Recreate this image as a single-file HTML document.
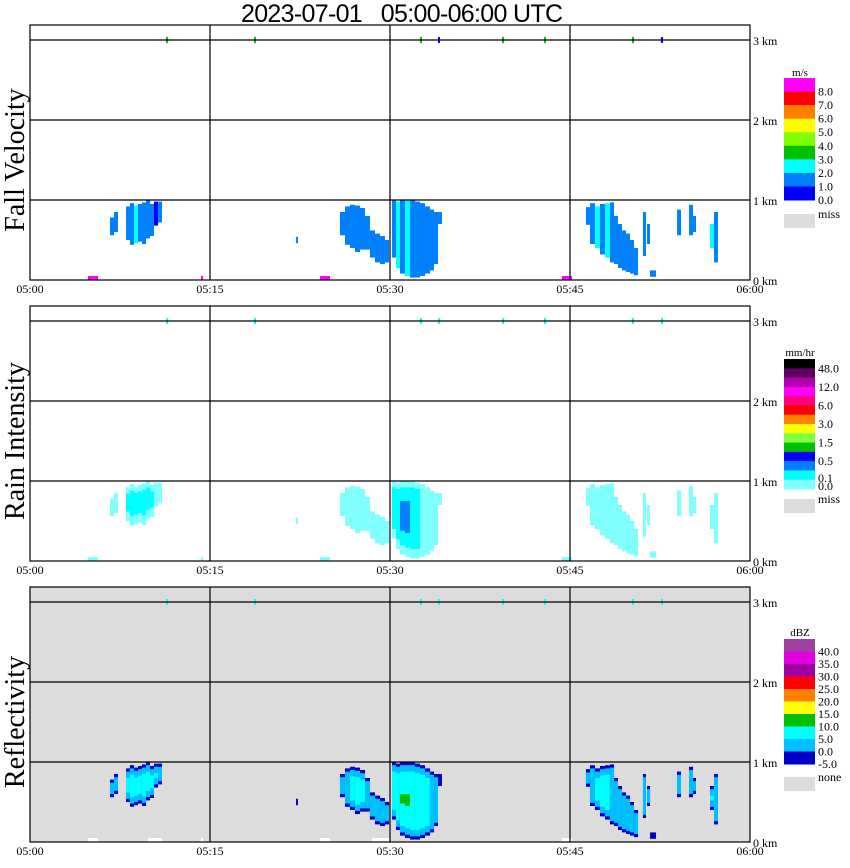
<!DOCTYPE html>
<html><head><meta charset="utf-8"><style>
html,body{margin:0;padding:0;background:#fff;width:850px;height:868px;overflow:hidden}
svg text{font-family:"Liberation Serif","DejaVu Serif",serif;}
</style></head><body>
<svg id="chart" width="850" height="868" viewBox="0 0 850 868" xmlns="http://www.w3.org/2000/svg">
<text x="402" y="22" font-size="25" text-anchor="middle" style="font-family:'Liberation Sans',sans-serif;white-space:pre" xml:space="preserve" textLength="322">2023-07-01&#160;&#160;&#160;05:00-06:00 UTC</text>
</svg>
<script>
// ---- data ----
const echoStart = [6.67,7.0,8.0,8.33,8.67,9.0,9.33,9.67,10.0,10.33,10.67,22.17,
 25.83,26.25,26.67,27.08,27.5,27.92,28.33,28.75,29.17,29.58,
 30.17,30.5,30.83,31.25,31.67,32.08,32.5,32.92,33.33,33.67,34.0,
 46.33,46.67,47.08,47.5,47.92,48.33,48.67,49.0,49.33,49.67,50.0,50.33,51.08,51.42,51.67,53.92,54.92,55.25,56.67,57.0];
const echoEnd = [7.0,7.33,8.33,8.67,9.0,9.33,9.67,10.0,10.33,10.67,11.0,22.33,
 26.25,26.67,27.08,27.5,27.92,28.33,28.75,29.17,29.58,29.92,
 30.5,30.83,31.25,31.67,32.08,32.5,32.92,33.33,33.67,34.0,34.33,
 46.67,47.08,47.5,47.92,48.33,48.67,49.0,49.33,49.67,50.0,50.33,50.67,51.33,51.67,52.17,54.25,55.25,55.5,57.0,57.33];
const echoTop = [0.78,0.85,0.92,0.96,0.93,0.95,0.97,1.0,0.95,0.98,0.98,0.54,
 0.85,0.92,0.94,0.93,0.90,0.80,0.62,0.58,0.55,0.50,
 1.0,0.98,1.0,1.0,1.0,0.98,0.96,0.92,0.88,0.85,0.85,
 0.91,0.96,0.92,0.95,0.96,0.97,0.80,0.70,0.62,0.58,0.50,0.40,0.85,0.70,0.12,0.88,0.94,0.80,0.70,0.85];
const echoBottom = [0.56,0.60,0.50,0.44,0.46,0.48,0.45,0.52,0.55,0.68,0.72,0.46,
 0.56,0.44,0.40,0.35,0.38,0.38,0.28,0.22,0.20,0.22,
 0.28,0.15,0.08,0.05,0.03,0.03,0.05,0.08,0.12,0.20,0.70,
 0.69,0.45,0.40,0.32,0.28,0.22,0.20,0.15,0.12,0.10,0.08,0.06,0.30,0.45,0.04,0.56,0.56,0.60,0.40,0.22];
const fallVelocity = [1.5,1.5,1.5,1.5,2.5,1.5,1.5,1.5,1.5,0.5,1.5,1.5,
 1.5,1.5,1.5,1.5,1.5,1.5,1.5,1.5,1.5,1.5,
 1.5,2.5,1.5,2.5,1.5,1.5,1.5,1.5,1.5,1.5,1.5,
 1.5,1.5,2.5,1.5,2.5,1.5,1.5,1.5,1.5,1.5,1.5,1.5,1.5,1.5,1.5,1.5,1.5,1.5,2.5,1.5];
const rainRate = [0.05,0.05,0.2,0.3,0.6,0.3,0.2,0.2,0.2,0.05,0.05,0.05,
 0.05,0.05,0.05,0.05,0.05,0.05,0.05,0.05,0.05,0.05,
 0.2,0.3,0.6,0.6,0.3,0.2,0.05,0.05,0.05,0.05,0.05,
 0.05,0.05,0.05,0.05,0.05,0.05,0.05,0.05,0.05,0.05,0.05,0.05,0.05,0.05,0.05,0.05,0.05,0.05,0.05,0.05];
const reflectivity = [2,3,7,8,8,8,7,7,8,6,3,-2,
 2,4,6,6,6,4,4,3,3,2,
 6,8,12,12,8,8,6,6,4,3,-2,
 2,3,6,6,6,4,3,3,2,2,2,1,3,2,-2,2,3,2,6,3];
const topMarks = [11.42,18.75,32.58,34.08,39.42,42.92,50.25,52.67];
const bottomMarks = [[4.83,5.67],[14.25,14.42],[24.17,25.0],[44.33,45.17]];
const timeTicks = [0,15,30,45,60];
const timeLabels = ["05:00","05:15","05:30","05:45","06:00"];
const kmTicks = [0,1,2,3];
const velBounds = ["8.0","7.0","6.0","5.0","4.0","3.0","2.0","1.0","0.0"];
const rainBounds = [48,12,6,3,1.5,0.5,0.1,0.0];
const dbzBounds = ["40.0","35.0","30.0","25.0","20.0","15.0","10.0","5.0","0.0","-5.0"];

// ---- helpers ----
const NS="http://www.w3.org/2000/svg", svg=document.getElementById('chart');
function mk(tag, attrs, parent){const e=document.createElementNS(NS,tag);for(const k in attrs)e.setAttribute(k,attrs[k]);(parent||svg).appendChild(e);return e;}
const X = m => 30 + 12*m;
const panelTops=[25,306,587];
const Yf = top => km => top + 15 + (3-km)*80;
const velColors=["#ff00ff","#ff0000","#ff8000","#ffff00","#80ff00","#00c000","#00ffff","#0080ff","#0000ff"];
const rainColors=["#000000","#600060","#b000b0","#ff00ff","#ff0080","#ff0000","#ff8000","#ffff00","#80ff40","#00c000","#0000ff","#0080ff","#00ffff","#80ffff"];
const dbzColors=["#a040a0","#e000e0","#a000a0","#ff0000","#ff8000","#ffff00","#00c000","#00ffff","#00c0ff","#0000c8"];
function velColor(v){const i=Math.min(8,Math.max(0,8-Math.floor(v)));return velColors[i];}
const titles=["Fall Velocity","Rain Intensity","Reflectivity"];

panelTops.forEach((top,p)=>{
  const Y=Yf(top);
  const g=mk('g',{});
  
  
  if(p===2){ const bg=mk('rect',{x:30,y:top,width:720,height:255,fill:'#dcdcdc'},g);
      }
  bottomMarks.forEach(b=>{
    const r=mk('rect',{x:X(b[0]),y:Y(0)-4,width:Math.max(2,X(b[1])-X(b[0])),height:4,fill:p===0?'#ff00ff':(p===1?'#80ffff':'#ffffff')},g);
     
  });
  if(p===2){[[9.83,11.0],[28.5,30]].forEach(b=>{const r=mk('rect',{x:X(b[0]),y:Y(0)-4,width:X(b[1])-X(b[0]),height:4,fill:'#fff'},g);
     });}
  echoStart.forEach((s,i)=>{
    const x0=X(s), w=X(echoEnd[i])-x0, t=echoTop[i], b=echoBottom[i];
    const layers=[];
    if(p===0){ layers.push([velColor(fallVelocity[i]),0,0]); }
    else if(p===1){ const r=rainRate[i]; layers.push(['#80ffff',0,0]);
      if(r>=0.1) layers.push(['#00ffff',0.08,0.12]);
      if(r>=0.5) layers.push(['#0080ff',0.25,0.3]); }
    else { const d=reflectivity[i]; layers.push(['#0000c8',0,0]);
      if(d>=0) layers.push(['#00c0ff',0.04,0.04]);
      if(d>=5) layers.push(['#00ffff',0.12,0.12]);
      if(d>=10) layers.push(['#00c000',0.4,0.4]); }
    layers.forEach(L=>{
      const tt=t-L[1], bb=b+L[2]; if(tt<=bb) return;
      const r=mk('rect',{x:x0,y:Y(tt),width:w,height:Y(bb)-Y(tt),fill:L[0]},g);
       
    });
  });
  topMarks.forEach((m,i)=>{
    const c = p===0 ? ((i===3||i===7)?'#0000ff':'#00c000') : '#00ffff';
    const r=mk('rect',{x:X(m)-1,y:Y(3)-3,width:2,height:6,fill:c},g);
     
  });
  kmTicks.slice(1).forEach(k=>{const l=mk('line',{x1:30,x2:750,y1:Y(k),y2:Y(k),stroke:'#000','stroke-width':1.2},g);
     });
  timeTicks.slice(1,4).forEach(t=>{const l=mk('line',{x1:X(t),x2:X(t),y1:top,y2:top+255,stroke:'#000','stroke-width':1.2},g);
     });
  const br=mk('rect',{x:30,y:top,width:720,height:255,fill:'none',stroke:'#000','stroke-width':1.2},g);
   
  kmTicks.forEach(k=>{const t=mk('text',{x:753,y:Y(k)+5,'font-size':12},g);t.textContent=k+' km';
     });
  timeTicks.forEach((tm,i)=>{const t=mk('text',{x:X(tm),y:top+268,'font-size':12,'text-anchor':'middle'},g);t.textContent=timeLabels[i];
     });
  const yt=mk('text',{x:0,y:0,'font-size':28,'text-anchor':'middle',transform:`translate(24,${top+135}) rotate(-90)`},g);
  yt.textContent=titles[p];  
});

function legend(y0,y1,colors,labels,labelIdx,unit,unitY,missLabel,missY,name){
  const g=mk('g',{});  
  const h=(y1-y0)/colors.length;
  colors.forEach((c,i)=>{const r=mk('rect',{x:784,y:y0+i*h,width:31,height:h+0.5,fill:c},g);
     });
  labels.forEach((l,i)=>{const t=mk('text',{x:818,y:y0+labelIdx[i]*h+4,'font-size':12},g);t.textContent=l;
     });
  const u=mk('text',{x:800,y:unitY,'font-size':11,'text-anchor':'middle'},g);u.textContent=unit;
   
  const m=mk('rect',{x:784,y:missY,width:31,height:14,fill:'#dcdcdc'},g);
   
  const mt=mk('text',{x:818,y:missY+4,'font-size':12},g);mt.textContent=missLabel;
   
}
legend(78,200,velColors,velBounds,[1,2,3,4,5,6,7,8,9],'m/s',76,'miss',214,'fall-velocity-legend');
legend(359,489,rainColors,rainBounds.map(v=>v.toFixed(1)),[1,3,5,7,9,11,12.8,13.7],'mm/hr',356,'miss',499,'rain-intensity-legend');
legend(639,764,dbzColors,dbzBounds,[1,2,3,4,5,6,7,8,9,10],'dBZ',636,'none',777,'reflectivity-legend');
</script>
</body></html>
